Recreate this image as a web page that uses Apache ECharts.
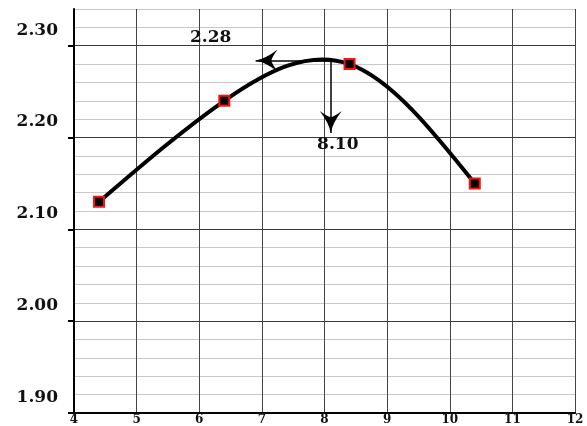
<!DOCTYPE html>
<html>
<head>
<meta charset="utf-8">
<script src="https://cdn.jsdelivr.net/npm/echarts@6/dist/echarts.min.js"></script>
<style>
  html, body { margin: 0; padding: 0; background: #fff; }
  #chart { width: 587px; height: 426px; }
</style>
</head>
<body>
<div id="chart"></div>
<script>
// Measured points
const xValues = [4.4, 6.4, 8.4, 10.4];
const yValues = [2.13, 2.24, 2.28, 2.15];

// Peak of the fitted curve and where its guide arrows end
const peakX = 8.10;
const peakY = 2.284;
const arrowLeftX = 6.90;
const arrowBottomY = 2.205;

// Axis ranges
const xRange = [4, 12];
const xStep = 1;
const yRange = [1.90, 2.34];
const yMajorStep = 0.1;
const yMinorStep = 0.02;

const serif = "'DejaVu Serif', 'Liberation Serif', serif";

const points = xValues.map((x, i) => [x, yValues[i]]);

// First derivatives of a natural cubic spline through (xs, ys)
function naturalSplineSlopes(xs, ys) {
  const n = xs.length;
  const h = [];
  for (let i = 0; i < n - 1; i++) h.push(xs[i + 1] - xs[i]);
  const M = new Array(n).fill(0);
  const a = [], b = [], c = [], d = [];
  for (let i = 1; i < n - 1; i++) {
    a.push(h[i - 1]);
    b.push(2 * (h[i - 1] + h[i]));
    c.push(h[i]);
    d.push(6 * ((ys[i + 1] - ys[i]) / h[i] - (ys[i] - ys[i - 1]) / h[i - 1]));
  }
  const m = d.length;
  for (let i = 1; i < m; i++) {
    const w = a[i] / b[i - 1];
    b[i] -= w * c[i - 1];
    d[i] -= w * d[i - 1];
  }
  const sol = new Array(m);
  for (let i = m - 1; i >= 0; i--) {
    sol[i] = (d[i] - (i < m - 1 ? c[i] * sol[i + 1] : 0)) / b[i];
  }
  for (let i = 0; i < m; i++) M[i + 1] = sol[i];
  const s = [];
  for (let i = 0; i < n; i++) {
    if (i < n - 1) s.push((ys[i + 1] - ys[i]) / h[i] - h[i] * (2 * M[i] + M[i + 1]) / 6);
    else s.push((ys[i] - ys[i - 1]) / h[i - 1] + h[i - 1] * (M[i - 1] + 2 * M[i]) / 6);
  }
  return s;
}

// Draws the spline as cubic Bezier segments mapped through the axes
function renderCurve(params, api) {
  if (params.dataIndex !== 0) return null;
  const slopes = naturalSplineSlopes(xValues, yValues);
  const p0 = api.coord([xValues[0], yValues[0]]);
  let d = 'M' + p0[0] + ',' + p0[1];
  for (let i = 0; i < xValues.length - 1; i++) {
    const h = xValues[i + 1] - xValues[i];
    const c1 = api.coord([xValues[i] + h / 3, yValues[i] + slopes[i] * h / 3]);
    const c2 = api.coord([xValues[i + 1] - h / 3, yValues[i + 1] - slopes[i + 1] * h / 3]);
    const p = api.coord([xValues[i + 1], yValues[i + 1]]);
    d += ' C' + c1[0] + ',' + c1[1] + ' ' + c2[0] + ',' + c2[1] + ' ' + p[0] + ',' + p[1];
  }
  return {
    type: 'path',
    shape: { pathData: d },
    style: { fill: 'none', stroke: '#000', lineWidth: 4, lineJoin: 'round', lineCap: 'round' }
  };
}

// Swept arrowhead pointing up; markLine rotates it along the line
const arrowHead = 'path://M50,0 Q58,45 100,100 Q62,72 50,72 Q38,72 0,100 Q42,45 50,0 Z';
const arrowSize = 22;

const chart = echarts.init(document.getElementById('chart'), null, { renderer: 'canvas' });

chart.setOption({
  animation: false,
  backgroundColor: '#ffffff',
  grid: { left: 74, right: 12, top: 9, bottom: 13, containLabel: false },
  xAxis: {
    type: 'value',
    min: xRange[0],
    max: xRange[1],
    interval: xStep,
    axisLine: { show: true, lineStyle: { color: '#000', width: 2 } },
    axisTick: { show: false },
    axisLabel: {
      show: true, margin: 1, color: '#111',
      fontFamily: serif, fontSize: 12, fontWeight: 'bold'
    },
    splitLine: { show: true, lineStyle: { color: '#444', width: 1 } }
  },
  yAxis: [
    {
      // minor grid
      type: 'value',
      min: yRange[0],
      max: yRange[1],
      interval: yMinorStep,
      axisLine: { show: false },
      axisTick: { show: false },
      axisLabel: { show: false },
      splitLine: { show: true, lineStyle: { color: '#c8c8c8', width: 1 } }
    },
    {
      // major grid, ticks and labels
      type: 'value',
      position: 'left',
      min: yRange[0],
      max: yRange[1],
      interval: yMajorStep,
      axisLine: { show: true, onZero: false, lineStyle: { color: '#000', width: 2 } },
      axisTick: { show: true, inside: false, length: 6, lineStyle: { color: '#000', width: 2 } },
      axisLabel: {
        show: true, margin: 16, color: '#111',
        fontFamily: serif, fontSize: 17, fontWeight: 'bold',
        verticalAlign: 'bottom', padding: [0, 0, 7, 0],
        showMaxLabel: false,
        formatter: v => v.toFixed(2)
      },
      splitLine: { show: true, showMaxLine: false, lineStyle: { color: '#3a3a3a', width: 1 } }
    }
  ],
  series: [
    {
      type: 'custom',
      yAxisIndex: 1,
      data: points,
      renderItem: renderCurve,
      silent: true,
      z: 4
    },
    {
      type: 'scatter',
      yAxisIndex: 1,
      data: points,
      symbol: 'rect',
      symbolSize: 10,
      itemStyle: { color: '#000', borderColor: '#ff1010', borderWidth: 2, opacity: 1 },
      z: 6,
      markLine: {
        silent: true,
        symbol: ['none', arrowHead],
        symbolSize: arrowSize,
        symbolOffset: [0, [0, arrowSize / 2]],
        label: { show: false },
        lineStyle: { color: '#000', width: 1.5, type: 'solid' },
        data: [
          [{ coord: [peakX, peakY] }, { coord: [arrowLeftX, peakY] }],
          [{ coord: [peakX, peakY] }, { coord: [peakX, arrowBottomY] }]
        ]
      },
      markPoint: {
        silent: true,
        symbol: 'circle',
        symbolSize: 0,
        label: {
          show: true, color: '#111',
          fontFamily: serif, fontSize: 17, fontWeight: 'bold'
        },
        data: [
          {
            coord: [arrowLeftX, peakY],
            label: { formatter: peakY.toFixed(2), offset: [-45, -23] }
          },
          {
            coord: [peakX, arrowBottomY],
            label: { formatter: peakX.toFixed(2), offset: [7, 12] }
          }
        ]
      }
    }
  ]
});
</script>
</body>
</html>
